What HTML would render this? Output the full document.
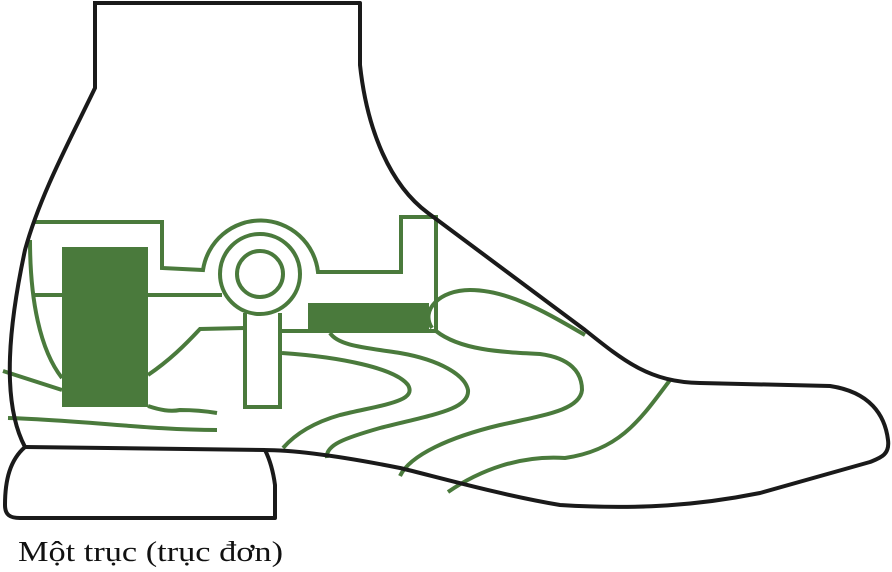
<!DOCTYPE html>
<html><head><meta charset="utf-8"><style>html,body{margin:0;padding:0;background:#fff}svg{display:block}</style></head>
<body>
<svg width="892" height="572" viewBox="0 0 892 572" xmlns="http://www.w3.org/2000/svg">
<g fill="none" stroke="#4a7a3c" stroke-width="4" stroke-linejoin="miter">
  <path d="M35,222 L162,222 L162,268 L203,270 A58,58 0 0 1 318,272 L401,272 L401,217 L436,217 L436,331 L282,331"/>
  <circle cx="260" cy="274" r="40"/>
  <circle cx="260" cy="274" r="23"/>
  <path d="M245,313 L245,407 L280,407 L280,313"/>
  <path d="M35,295 L62,295 M148,295 L222,295"/>
  <path d="M245,328 L200,329 C185,345 170,360 148,375"/>
  <path d="M30,240 C30,300 40,350 62,378"/>
  <path d="M3,371 L62,390"/>
  <path d="M148,406 C160,410 170,412 180,410 C195,410 205,411 217,413"/>
  <path d="M8,418 C80,420 150,430 217,430"/>
  <path d="M282,353 C340,357 395,368 408,385 C418,402 380,405 340,415 C305,425 290,440 283,448"/>
  <path d="M330,333 C338,345 360,347 400,353 C440,360 465,375 468,390 C470,410 430,415 380,428 C345,438 325,445 327,458"/>
  <path d="M432,328 C420,310 440,290 470,290 C510,290 550,315 585,335"/>
  <path d="M436,331 C460,350 500,352 540,354 C570,358 582,372 582,390 C580,410 545,415 500,425 C450,437 410,455 400,476"/>
  <path d="M670,380 C640,420 620,450 565,458 C520,455 480,470 448,492"/>
</g>
<g fill="#4a7a3c">
  <rect x="62" y="247" width="86" height="160"/>
  <rect x="308" y="303" width="121" height="28"/>
</g>
<g fill="none" stroke="#1a1a1a" stroke-width="4" stroke-linejoin="round">
  <path d="M95,2 L95,88 C70,140 40,195 25,250 C10,320 0,400 25,447"/>
  <path d="M93,3 L360,3 L360,65 C367,130 390,185 428,213 L585,330 C625,362 650,382 700,383 L830,386 C870,392 885,415 888,440 C890,455 880,458 870,462 L760,493 C700,505 640,510 560,505 C500,495 430,475 400,468 C350,458 300,450 263,450"/>
  <path d="M25,447 L265,450"/>
  <path d="M25,447 C10,460 5,480 5,505 C5,515 10,518 20,518 L275,518 L275,485 C273,470 270,460 265,450"/>
</g>
<text x="18" y="561" font-family="Liberation Serif, serif" font-size="29" fill="#111" textLength="265" lengthAdjust="spacingAndGlyphs">Một trục (trục đơn)</text>
</svg>
</body></html>
